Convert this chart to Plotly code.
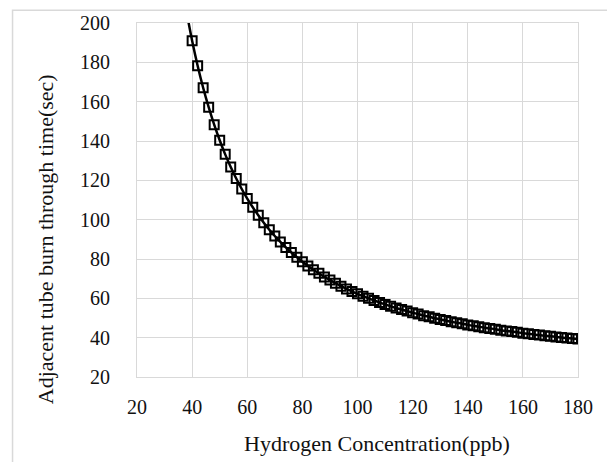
import plotly.graph_objects as go

# Hydrogen concentration (ppb) for the marker points
hydrogen_ppb = [40, 42, 44, 46, 48, 50, 52, 54, 56, 58,
                60, 62, 64, 66, 68, 70, 72, 74, 76, 78,
                80, 82, 84, 86, 88, 90, 92, 94, 96, 98,
                100, 102, 104, 106, 108, 110, 112, 114, 116, 118,
                120, 122, 124, 126, 128, 130, 132, 134, 136, 138,
                140, 142, 144, 146, 148, 150, 152, 154, 156, 158,
                160, 162, 164, 166, 168, 170, 172, 174, 176, 178, 180]

# Adjacent tube burn through time (sec)
burn_time_sec = [191.0, 178.3, 167.1, 157.2, 148.3, 140.4, 133.2, 126.8, 120.9, 115.6,
                 110.7, 106.3, 102.2, 98.4, 94.9, 91.7, 88.7, 85.9, 83.3, 80.9,
                 78.6, 76.5, 74.5, 72.7, 70.9, 69.3, 67.7, 66.2, 64.8, 63.5,
                 62.3, 61.1, 60.0, 58.9, 57.9, 56.9, 56.0, 55.1, 54.3, 53.5,
                 52.7, 52.0, 51.2, 50.6, 49.9, 49.3, 48.7, 48.1, 47.6, 47.1,
                 46.5, 46.0, 45.6, 45.1, 44.7, 44.3, 43.8, 43.4, 43.1, 42.7,
                 42.3, 42.0, 41.6, 41.3, 41.0, 40.7, 40.4, 40.1, 39.8, 39.6, 39.3]

# Curve line extends slightly beyond the first marker (clipped at the top)
line_ppb = [38] + hydrogen_ppb
line_sec = [205.5] + burn_time_sec

x_ticks = [20, 40, 60, 80, 100, 120, 140, 160, 180]
y_ticks = [20, 40, 60, 80, 100, 120, 140, 160, 180, 200]

x_title = "Hydrogen Concentration(ppb)"
y_title = "Adjacent tube burn through time(sec)"

FONT = "Liberation Serif"
GRID = "#d9d9d9"

fig = go.Figure()
fig.add_trace(go.Scatter(
    x=line_ppb, y=line_sec, mode="lines",
    line=dict(color="black", width=2.5, shape="spline"),
    hoverinfo="skip", showlegend=False,
))
fig.add_trace(go.Scatter(
    x=hydrogen_ppb, y=burn_time_sec, mode="markers",
    marker=dict(symbol="square-open", size=9, color="black",
                line=dict(color="black", width=2)),
    showlegend=False,
))

fig.update_layout(
    width=607, height=462,
    margin=dict(l=137, r=29, t=19, b=85),
    paper_bgcolor="white", plot_bgcolor="white",
    font=dict(family=FONT, color="#111111"),
    xaxis=dict(range=[20, 180], tickvals=x_ticks, showgrid=True,
               gridcolor=GRID, gridwidth=1, zeroline=False,
               showline=True, linecolor=GRID, linewidth=1, mirror=True,
               ticks="outside", ticklen=12, tickcolor="rgba(0,0,0,0)",
               tickfont=dict(family=FONT, size=20, color="#111111")),
    yaxis=dict(range=[20, 200], tickvals=y_ticks, showgrid=True,
               gridcolor=GRID, gridwidth=1, zeroline=False,
               showline=True, linecolor=GRID, linewidth=1, mirror=True,
               ticks="outside", ticklen=22, tickcolor="rgba(0,0,0,0)",
               tickfont=dict(family=FONT, size=20, color="#111111")),
    annotations=[
        dict(text=x_title, xref="paper", yref="paper", x=0.5443, y=-0.1883,
             xanchor="center", yanchor="middle", showarrow=False,
             font=dict(family=FONT, size=22, color="#111111")),
        dict(text=y_title, xref="paper", yref="paper", x=-0.2073, y=0.3881,
             xanchor="center", yanchor="middle", showarrow=False, textangle=-90,
             font=dict(family=FONT, size=22, color="#111111")),
    ],
    shapes=[
        dict(type="rect", xref="paper", yref="paper",
             x0=-0.2822, x1=1.2, y0=-0.5, y1=1.0358,
             line=dict(color=GRID, width=1.5), layer="below"),
    ],
)

fig.write_html("out.html", config={"displayModeBar": False},
               post_script="document.body.style.margin='0';")
